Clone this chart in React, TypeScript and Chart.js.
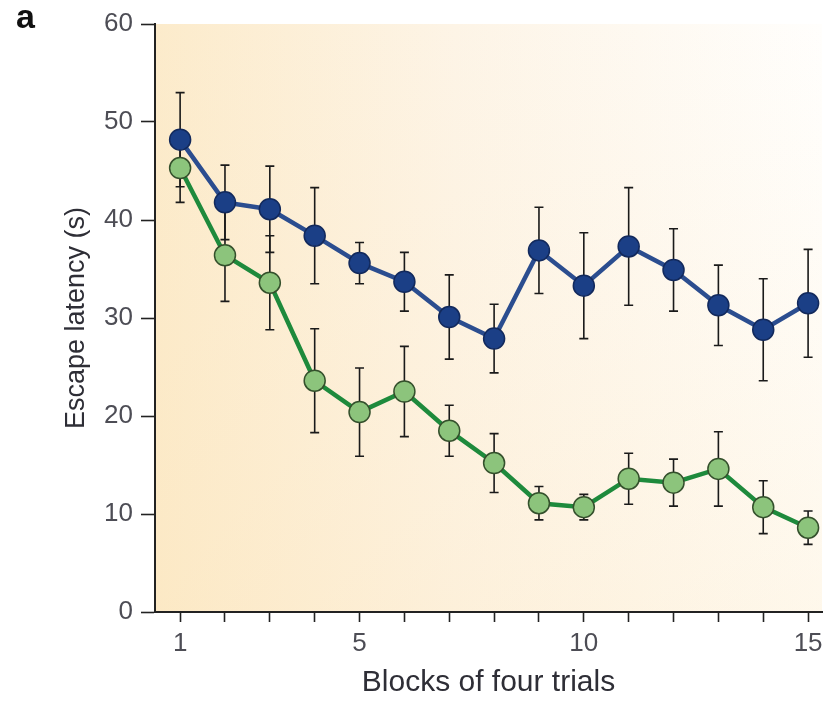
import React, { useEffect, useRef } from "react";
import { Chart, registerables } from "chart.js";

Chart.register(...registerables);

const blocks = [1, 2, 3, 4, 5, 6, 7, 8, 9, 10, 11, 12, 13, 14, 15];
const blueMean = [48.2, 41.8, 41.1, 38.4, 35.6, 33.7, 30.1, 27.9, 36.9, 33.3, 37.3, 34.9, 31.3, 28.8, 31.5];
const blueErr = [4.8, 3.8, 4.4, 4.9, 2.1, 3.0, 4.3, 3.5, 4.4, 5.4, 6.0, 4.2, 4.1, 5.2, 5.5];
const greenMean = [45.3, 36.4, 33.6, 23.6, 20.4, 22.5, 18.5, 15.2, 11.1, 10.7, 13.6, 13.2, 14.6, 10.7, 8.6];
const greenErr = [3.5, 4.7, 4.8, 5.3, 4.5, 4.6, 2.6, 3.0, 1.7, 1.3, 2.6, 2.4, 3.8, 2.7, 1.7];
const xTicks = [1, 2, 3, 4, 5, 6, 7, 8, 9, 10, 11, 12, 13, 14, 15];
const xLabeled = [1, 5, 10, 15];
const yTicks = [0, 10, 20, 30, 40, 50, 60];
const xTitle = "Blocks of four trials";
const yTitle = "Escape latency (s)";
const panelLabel = "a";

const FONT = "'Liberation Sans', Arial, Helvetica, sans-serif";

const bgPlugin = {
  id: "bgGradient",
  beforeDraw(chart: any) {
    const { ctx, chartArea } = chart;
    if (!chartArea) return;
    const { left, right, top, bottom } = chartArea;
    ctx.save();
    const g = ctx.createLinearGradient(left, 0, right, 0);
    g.addColorStop(0, "#fcebcb");
    g.addColorStop(0.45, "#fdf4e6");
    g.addColorStop(1, "#fffefc");
    ctx.fillStyle = g;
    ctx.fillRect(left, top, right - left, bottom - top);
    const v = ctx.createLinearGradient(0, top, 0, bottom);
    v.addColorStop(0, "rgba(252,228,185,0)");
    v.addColorStop(1, "rgba(252,225,175,0.22)");
    ctx.fillStyle = v;
    ctx.fillRect(left, top, right - left, bottom - top);
    ctx.restore();
  },
};

const errorBarPlugin = {
  id: "errorBars",
  beforeDatasetsDraw(chart: any) {
    const { ctx, scales } = chart;
    const x = scales.x;
    const y = scales.y;
    const series = [
      { m: greenMean, e: greenErr },
      { m: blueMean, e: blueErr },
    ];
    ctx.save();
    ctx.strokeStyle = "#1a1a1a";
    ctx.lineWidth = 1.6;
    series.forEach((s) => {
      s.m.forEach((v, i) => {
        const px = x.getPixelForValue(blocks[i]);
        const pt = y.getPixelForValue(v + s.e[i]);
        const pb = y.getPixelForValue(v - s.e[i]);
        ctx.beginPath();
        ctx.moveTo(px, pt);
        ctx.lineTo(px, pb);
        ctx.moveTo(px - 4.5, pt);
        ctx.lineTo(px + 4.5, pt);
        ctx.moveTo(px - 4.5, pb);
        ctx.lineTo(px + 4.5, pb);
        ctx.stroke();
      });
    });
    ctx.restore();
  },
};

export default function App() {
  const ref = useRef<HTMLCanvasElement | null>(null);

  useEffect(() => {
    if (!ref.current) return;
    const chart = new Chart(ref.current, {
      type: "line",
      data: {
        datasets: [
          {
            label: "blue",
            data: blocks.map((b, i) => ({ x: b, y: blueMean[i] })),
            borderColor: "#2b4d8f",
            borderWidth: 4.5,
            pointRadius: 10.5,
            pointBackgroundColor: "#1b3f86",
            pointBorderColor: "#12295c",
            pointBorderWidth: 1.5,
            tension: 0,
            clip: false as any,
          },
          {
            label: "green",
            data: blocks.map((b, i) => ({ x: b, y: greenMean[i] })),
            borderColor: "#1e8a3c",
            borderWidth: 4.5,
            pointRadius: 10.5,
            pointBackgroundColor: "#8cc47c",
            pointBorderColor: "#34502c",
            pointBorderWidth: 1.5,
            tension: 0,
            clip: false as any,
          },
        ],
      },
      options: {
        animation: false,
        responsive: false,
        maintainAspectRatio: false,
        layout: { padding: { left: 0, top: 24, right: 10, bottom: 0 } },
        plugins: {
          legend: { display: false },
          tooltip: { enabled: false },
        },
        scales: {
          x: {
            type: "linear",
            min: 0.44,
            max: 15.31,
            afterBuildTicks: (s: any) => {
              s.ticks = xTicks.map((v) => ({ value: v }));
            },
            afterFit: (s: any) => {
              s.height = 89;
            },
            grid: {
              drawOnChartArea: false,
              drawTicks: true,
              tickLength: 10,
              tickColor: "#222",
              tickWidth: 1.6,
            },
            border: { display: true, color: "#222", width: 2 },
            ticks: {
              autoSkip: false,
              maxRotation: 0,
              padding: 6,
              color: "#4d4d55",
              font: { family: FONT, size: 26 },
              callback: (v: any) => (xLabeled.includes(Number(v)) ? String(v) : ""),
            },
            title: {
              display: true,
              text: xTitle,
              color: "#2e2e36",
              font: { family: FONT, size: 30 },
              padding: { top: 0, bottom: 0 },
            },
          },
          y: {
            type: "linear",
            min: 0,
            max: 60,
            afterBuildTicks: (s: any) => {
              s.ticks = yTicks.map((v) => ({ value: v }));
            },
            afterFit: (s: any) => {
              s.width = 155;
            },
            grid: {
              drawOnChartArea: false,
              drawTicks: true,
              tickLength: 14,
              tickColor: "#222",
              tickWidth: 1.6,
            },
            border: { display: true, color: "#222", width: 2 },
            ticks: {
              padding: 8,
              color: "#4d4d55",
              font: { family: FONT, size: 26 },
            },
            title: {
              display: true,
              text: yTitle,
              color: "#2e2e36",
              font: { family: FONT, size: 27 },
              padding: { top: 60, bottom: 0 },
            },
          },
        },
      },
      plugins: [bgPlugin, errorBarPlugin],
    });
    return () => chart.destroy();
  }, []);

  return (
    <div style={{ position: "absolute", left: 0, top: 0, width: 834, height: 701, background: "#fff" }}>
      <canvas ref={ref} width={834} height={701} style={{ width: 834, height: 701, display: "block" }} />
      <div
        style={{
          position: "absolute",
          left: 16,
          top: -1,
          fontFamily: FONT,
          fontWeight: "bold",
          fontSize: 34,
          lineHeight: "34px",
          color: "#111",
        }}
      >
        {panelLabel}
      </div>
    </div>
  );
}
